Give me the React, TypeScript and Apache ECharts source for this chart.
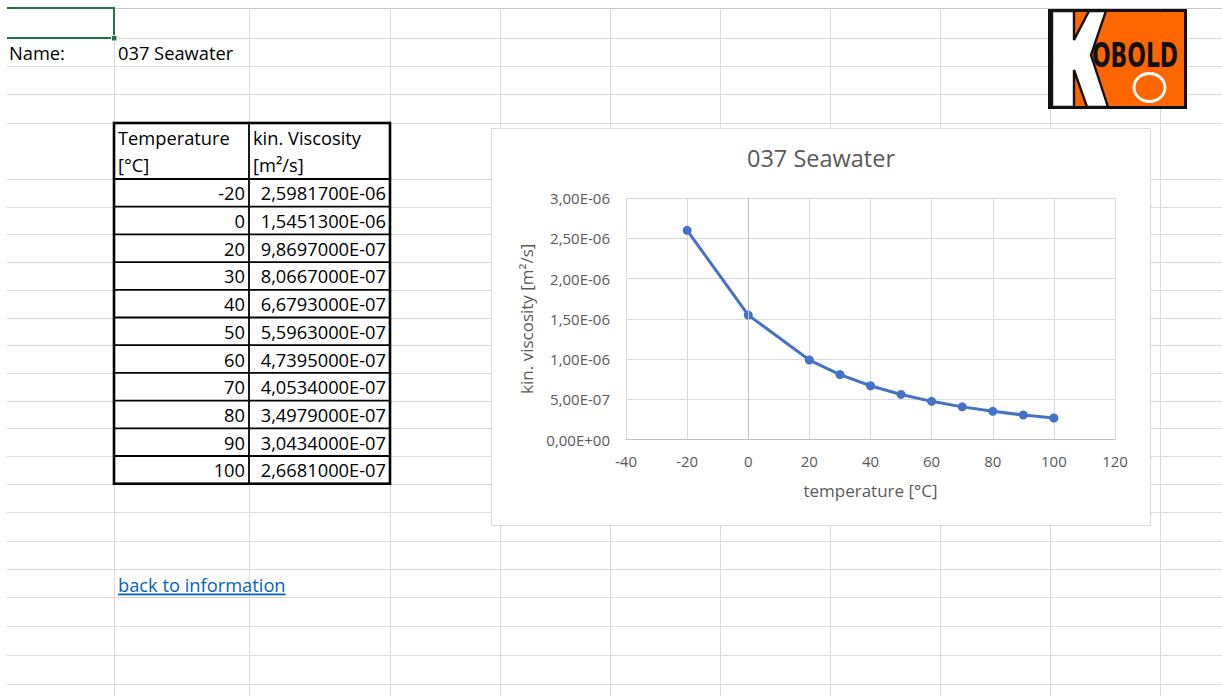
import React, { useEffect, useRef } from "react";
import * as echarts from "echarts";

const FONT = "'Open Sans', 'Noto Sans', sans-serif";

const sheetName = "037 Seawater";
const chartTitle = "037 Seawater";
const temperatures = [-20, 0, 20, 30, 40, 50, 60, 70, 80, 90, 100];
const viscosities = [
  2.59817e-6, 1.54513e-6, 9.8697e-7, 8.0667e-7, 6.6793e-7, 5.5963e-7,
  4.7395e-7, 4.0534e-7, 3.4979e-7, 3.0434e-7, 2.6681e-7,
];
const xMin = -40;
const xMax = 120;
const xStep = 20;
const yMin = 0;
const yMax = 3e-6;
const yStep = 5e-7;
const xAxisName = "temperature [°C]";
const yAxisName = "kin. viscosity [m²/s]";
const headerTemp = ["Temperature", "[°C]"];
const headerVisc = ["kin. Viscosity", "[m²/s]"];
const linkText = "back to information";

// sheet layout
const colXs = [114, 249, 390, 500, 610, 720, 830, 940, 1050, 1160];
const rowYs = [38, 66, 94, 123, 179, 512, 541, 569, 597, 626, 655, 684];
const tableTop = 123;
const headerBottom = 179;
const rowH = 27.7;

function sci(v: number, digits: number): string {
  const [m, e] = v.toExponential(digits).split("e");
  const n = parseInt(e, 10);
  return (
    m.replace(".", ",") +
    "E" +
    (n < 0 ? "-" : "+") +
    String(Math.abs(n)).padStart(2, "0")
  );
}

function Sheet() {
  const tableBottom = headerBottom + rowH * temperatures.length;
  const dataRowYs = temperatures.map((_, i) => headerBottom + rowH * i);
  const allRowYs = [...rowYs, ...dataRowYs.slice(1), tableBottom];
  const cellFont = 18.3;
  return (
    <svg
      width={1222}
      height={696}
      style={{ position: "absolute", left: 0, top: 0 }}
      xmlns="http://www.w3.org/2000/svg"
    >
      <rect x={0} y={0} width={1222} height={696} fill="#ffffff" />
      {/* grid lines */}
      <line x1={7} x2={1222} y1={8.5} y2={8.5} stroke="#c6c6c6" strokeWidth={1} />
      {allRowYs.map((y, i) => (
        <line key={"r" + i} x1={7} x2={1222} y1={Math.round(y) + 0.5} y2={Math.round(y) + 0.5} stroke="#d9d9d9" strokeWidth={1} />
      ))}
      {colXs.map((x, i) => (
        <line key={"c" + i} x1={x + 0.5} x2={x + 0.5} y1={8} y2={696} stroke="#d9d9d9" strokeWidth={1} />
      ))}
      {/* selected cell */}
      <polyline points="7,8 114,8 114,38 7,38" fill="none" stroke="#217346" strokeWidth={2} />
      <rect x={111.5} y={35.5} width={5.5} height={5.5} fill="#217346" stroke="#ffffff" strokeWidth={1} />

      <text x={9} y={52} fontFamily={FONT} fontSize={cellFont} fill="#000" dominantBaseline="central">Name:</text>
      <text x={118} y={52} fontFamily={FONT} fontSize={cellFont} fill="#000" dominantBaseline="central">{sheetName}</text>

      {/* table */}
      <rect x={114} y={tableTop} width={276} height={tableBottom - tableTop} fill="#ffffff" />
      <text x={118} y={137.5} fontFamily={FONT} fontSize={cellFont} fill="#000" dominantBaseline="central">{headerTemp[0]}</text>
      <text x={118} y={164.5} fontFamily={FONT} fontSize={cellFont} fill="#000" dominantBaseline="central">{headerTemp[1]}</text>
      <text x={253} y={137.5} fontFamily={FONT} fontSize={cellFont} fill="#000" dominantBaseline="central">{headerVisc[0]}</text>
      <text x={253} y={164.5} fontFamily={FONT} fontSize={cellFont} fill="#000" dominantBaseline="central">{headerVisc[1]}</text>
      {temperatures.map((t, i) => (
        <g key={"d" + i}>
          <text x={245} y={dataRowYs[i] + rowH / 2} fontFamily={FONT} fontSize={cellFont} fill="#000" dominantBaseline="central" textAnchor="end">{String(t)}</text>
          <text x={386} y={dataRowYs[i] + rowH / 2} fontFamily={FONT} fontSize={cellFont} fill="#000" dominantBaseline="central" textAnchor="end">{sci(viscosities[i], 7)}</text>
        </g>
      ))}
      {dataRowYs.map((y, i) => (
        <line key={"tb" + i} x1={114} x2={390} y1={y} y2={y} stroke="#000" strokeWidth={1.8} />
      ))}
      <line x1={249} x2={249} y1={tableTop} y2={tableBottom} stroke="#000" strokeWidth={1.8} />
      <rect x={114} y={tableTop} width={276} height={tableBottom - tableTop} fill="none" stroke="#000" strokeWidth={2.6} />

      {/* link */}
      <text x={118} y={584} fontFamily={FONT} fontSize={cellFont} fill="#0563C1" dominantBaseline="central" textDecoration="underline">{linkText}</text>

      {/* logo */}
      <rect x={1049.5} y={10.5} width={136} height={97} fill="#FF6600" stroke="#111" strokeWidth={3} />
      <polygon
        points="1052,11 1074,11 1074,40 1089,11 1106,11 1091,55 1108,107 1087,107 1074,70 1074,107 1052,107"
        fill="#ffffff"
        stroke="#111"
        strokeWidth={2.4}
        strokeLinejoin="miter"
      />
      <text x={1092} y={67} fontFamily="'DejaVu Sans Condensed', 'DejaVu Sans', sans-serif" fontWeight="bold" fontSize={34} fill="#111" textLength={86} lengthAdjust="spacingAndGlyphs">OBOLD</text>
      <ellipse cx={1149.5} cy={87.5} rx={15.5} ry={14} fill="none" stroke="#ffffff" strokeWidth={2.8} />
    </svg>
  );
}

function Chart() {
  const ref = useRef<HTMLDivElement>(null);
  useEffect(() => {
    if (!ref.current) return;
    const chart = echarts.init(ref.current, null, { renderer: "svg" });
    chart.setOption({
      animation: false,
      backgroundColor: "#ffffff",
      textStyle: { fontFamily: FONT },
      title: {
        text: chartTitle,
        left: "center",
        top: 12,
        textStyle: {
          color: "#595959",
          fontSize: 23.5,
          fontWeight: "normal",
          fontFamily: FONT,
        },
      },
      grid: { left: 134, right: 35, top: 69, bottom: 85.5, containLabel: false },
      xAxis: {
        type: "value",
        min: xMin,
        max: xMax,
        interval: xStep,
        name: xAxisName,
        nameLocation: "middle",
        nameGap: 42,
        nameTextStyle: { color: "#595959", fontSize: 17, fontFamily: FONT },
        axisLine: { show: true, lineStyle: { color: "#bfbfbf", width: 1 } },
        axisTick: { show: false },
        axisLabel: { color: "#595959", fontSize: 15, margin: 14, fontFamily: FONT },
        splitLine: { show: true, lineStyle: { color: "#d9d9d9", width: 1 } },
      },
      yAxis: {
        type: "value",
        min: yMin,
        max: yMax,
        interval: yStep,
        name: yAxisName,
        nameLocation: "middle",
        nameGap: 91,
        nameRotate: 90,
        nameTextStyle: { color: "#595959", fontSize: 17, fontFamily: FONT },
        axisLine: { show: false },
        axisTick: { show: false },
        axisLabel: {
          color: "#595959",
          fontSize: 15,
          margin: 16,
          fontFamily: FONT,
          formatter: (v: number) => sci(v, 2),
        },
        splitLine: { show: true, lineStyle: { color: "#d9d9d9", width: 1 } },
      },
      series: [
        {
          type: "line",
          data: temperatures.map((t, i) => [t, viscosities[i]]),
          symbol: "circle",
          symbolSize: 9,
          lineStyle: { color: "#4472C4", width: 3 },
          itemStyle: { color: "#4472C4" },
          z: 3,
          markLine: {
            silent: true,
            symbol: "none",
            label: { show: false },
            lineStyle: { color: "#bfbfbf", width: 1, type: "solid" },
            data: [{ xAxis: 0 }],
          },
        },
      ],
    });
    return () => chart.dispose();
  }, []);
  return (
    <div
      style={{
        position: "absolute",
        left: 491,
        top: 128,
        width: 660,
        height: 398,
        border: "1px solid #d9d9d9",
        boxSizing: "border-box",
        background: "#ffffff",
      }}
    >
      <div ref={ref} style={{ width: 658, height: 396 }} />
    </div>
  );
}

export default function App() {
  return (
    <div
      style={{
        position: "absolute",
        left: 0,
        top: 0,
        width: 1222,
        height: 696,
        overflow: "hidden",
        background: "#ffffff",
      }}
    >
      <Sheet />
      <Chart />
    </div>
  );
}
